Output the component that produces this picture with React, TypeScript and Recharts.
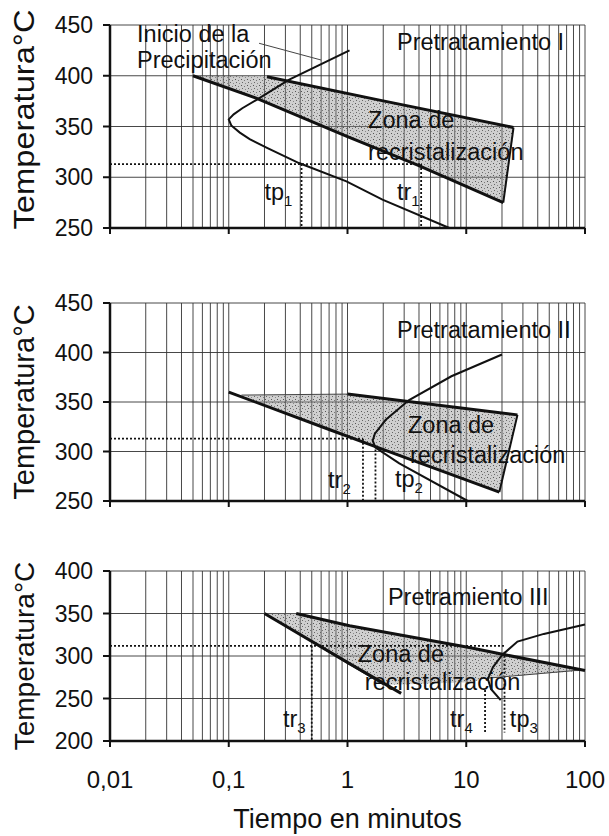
import React from 'react';
import {
  ComposedChart,
  Line,
  Area,
  Scatter,
  XAxis,
  YAxis,
  CartesianGrid,
  Label,
} from 'recharts';

const FONT = '"Liberation Sans", Arial, Helvetica, sans-serif';
const INK = '#111';

type Pt = { t: number; T: number };
type ZonePt = { t: number; r: [number, number] };
type Note = { t: number; T: number; text: string; sub?: string };

// time axis (minutes, log scale)
const decadeTicks = [0.01, 0.1, 1, 10, 100];
const decadeLabels = ['0,01', '0,1', '1', '10', '100'];
const timeGrid = [
  0.01, 0.02, 0.03, 0.04, 0.05, 0.06, 0.07, 0.08, 0.09,
  0.1, 0.2, 0.3, 0.4, 0.5, 0.6, 0.7, 0.8, 0.9,
  1, 2, 3, 4, 5, 6, 7, 8, 9,
  10, 20, 30, 40, 50, 60, 70, 80, 90,
  100,
];
const tempTicksHigh = [250, 300, 350, 400, 450];
const tempTicksLow = [200, 250, 300, 350, 400];

// ---- Pretratamiento I ----
const zoneI: ZonePt[] = [
  { t: 0.05, r: [400, 400] },
  { t: 0.17, r: [378, 399.5] },
  { t: 0.21, r: [373.5, 399] },
  { t: 1, r: [340, 383] },
  { t: 3.9, r: [312, 368.5] },
  { t: 20.5, r: [275, 351] },
  { t: 25, r: [349, 349] },
];
const recrystStartI: Pt[] = [
  { t: 0.05, T: 400 },
  { t: 0.17, T: 378 },
  { t: 1, T: 340 },
  { t: 3.9, T: 312 },
  { t: 20.5, T: 275 },
];
const recrystEndI: Pt[] = [
  { t: 0.21, T: 399 },
  { t: 1.86, T: 376 },
  { t: 25, T: 349 },
];
const zoneEdgeI: Pt[] = [
  { t: 25, T: 349 },
  { t: 20.5, T: 275 },
];
const precipI: Pt[] = [
  { t: 1.04, T: 425 },
  { t: 0.32, T: 396 },
  { t: 0.17, T: 376 },
  { t: 0.13, T: 368 },
  { t: 0.11, T: 362 },
  { t: 0.1, T: 357 },
  { t: 0.105, T: 351 },
  { t: 0.124, T: 344 },
  { t: 0.15, T: 337.5 },
  { t: 0.21, T: 329 },
  { t: 0.39, T: 314 },
  { t: 0.98, T: 296 },
  { t: 1.97, T: 278 },
  { t: 7.2, T: 250 },
];
const leaderI: Pt[] = [
  { t: 0.18, T: 432 },
  { t: 0.6, T: 415.5 },
];
const isoI: Pt[] = [
  { t: 0.01, T: 313 },
  { t: 4.17, T: 313 },
];
const tp1: Pt[] = [
  { t: 0.41, T: 313 },
  { t: 0.41, T: 250 },
];
const tr1: Pt[] = [
  { t: 4.17, T: 313 },
  { t: 4.17, T: 250 },
];
const notesI: Note[] = [
  { t: 0.0169, T: 433, text: 'Inicio de la' },
  { t: 0.0169, T: 407.5, text: 'Precipitación' },
  { t: 2.61, T: 425, text: 'Pretratamiento I' },
  { t: 1.49, T: 348.5, text: 'Zona de' },
  { t: 1.49, T: 317, text: 'recristalización' },
  { t: 0.2, T: 277.5, text: 'tp', sub: '1' },
  { t: 2.61, T: 277.5, text: 'tr', sub: '1' },
];

// ---- Pretratamiento II ----
const zoneII: ZonePt[] = [
  { t: 0.128, r: [357, 357] },
  { t: 0.71, r: [322, 357.5] },
  { t: 1, r: [315.5, 358] },
  { t: 1.63, r: [306, 355] },
  { t: 19, r: [259, 339.2] },
  { t: 27, r: [337, 337] },
];
const recrystStartII: Pt[] = [
  { t: 0.1, T: 360 },
  { t: 0.71, T: 322 },
  { t: 1.63, T: 306 },
  { t: 19, T: 259 },
];
const recrystEndII: Pt[] = [
  { t: 1, T: 358 },
  { t: 27, T: 337 },
];
const zoneEdgeII: Pt[] = [
  { t: 27, T: 337 },
  { t: 19, T: 259 },
];
const zoneTopII: Pt[] = [
  { t: 0.128, T: 357 },
  { t: 1, T: 358 },
];
const precipII: Pt[] = [
  { t: 20, T: 398 },
  { t: 7.5, T: 376 },
  { t: 3.3, T: 352 },
  { t: 2.1, T: 332 },
  { t: 1.7, T: 318 },
  { t: 1.63, T: 311 },
  { t: 1.72, T: 304 },
  { t: 2.73, T: 288 },
  { t: 10.3, T: 250 },
];
const isoII: Pt[] = [
  { t: 0.01, T: 313 },
  { t: 1.35, T: 313 },
];
const tr2: Pt[] = [
  { t: 1.35, T: 313 },
  { t: 1.35, T: 250 },
];
const tp2: Pt[] = [
  { t: 1.72, T: 306 },
  { t: 1.72, T: 250 },
];
const notesII: Note[] = [
  { t: 2.61, T: 414.5, text: 'Pretratamiento II' },
  { t: 3.23, T: 318.5, text: 'Zona de' },
  { t: 3.36, T: 288.5, text: 'recristalización' },
  { t: 0.686, T: 263, text: 'tr', sub: '2' },
  { t: 2.51, T: 264, text: 'tp', sub: '2' },
];

// ---- Pretramiento III ----
const zoneIII: ZonePt[] = [
  { t: 0.2, r: [350, 350] },
  { t: 0.37, r: [329, 350] },
  { t: 1.04, r: [290, 335.5] },
  { t: 2, r: [266, 328.5] },
  { t: 10.6, r: [269, 310] },
  { t: 15.5, r: [274, 306] },
  { t: 20.2, r: [275.5, 302] },
  { t: 100, r: [283, 283] },
];
const recrystStartIII: Pt[] = [
  { t: 0.2, T: 350 },
  { t: 1.04, T: 291 },
  { t: 2.83, T: 256 },
];
const recrystStartIIIb: Pt[] = [
  { t: 0.2, T: 350 },
  { t: 2, T: 266 },
];
const recrystEndIII: Pt[] = [
  { t: 0.37, T: 350 },
  { t: 1.04, T: 335.5 },
  { t: 10.6, T: 310 },
  { t: 20.2, T: 302 },
  { t: 100, T: 283 },
];
const zoneLowIII: Pt[] = [
  { t: 15.5, T: 274 },
  { t: 100, T: 284 },
];
const precipIII: Pt[] = [
  { t: 100, T: 337 },
  { t: 45, T: 326 },
  { t: 27, T: 317 },
  { t: 20, T: 301 },
  { t: 16.8, T: 287 },
  { t: 15.2, T: 273 },
  { t: 16.2, T: 261 },
  { t: 19.5, T: 248 },
];
const isoIII: Pt[] = [
  { t: 0.01, T: 312 },
  { t: 21, T: 312 },
];
const tr3: Pt[] = [
  { t: 0.5, T: 312 },
  { t: 0.5, T: 200 },
];
const tr4: Pt[] = [
  { t: 14.4, T: 260 },
  { t: 14.4, T: 210 },
];
const tp3: Pt[] = [
  { t: 21, T: 305 },
  { t: 21, T: 210 },
];
const notesIII: Note[] = [
  { t: 2.19, T: 360, text: 'Pretramiento III' },
  { t: 1.22, T: 293, text: 'Zona de' },
  { t: 1.4, T: 260, text: 'recristalización' },
  { t: 0.286, T: 217, text: 'tr', sub: '3' },
  { t: 7.3, T: 217, text: 'tr', sub: '4' },
  { t: 23.3, T: 217, text: 'tp', sub: '3' },
];

function TimeTick(props: any) {
  const { x, y, payload, showLabels } = props;
  const i = decadeTicks.indexOf(payload.value);
  if (i < 0) return null;
  return (
    <g>
      <line x1={x} y1={y} x2={x} y2={y + 6} stroke={INK} strokeWidth={2} />
      {showLabels && (
        <text x={x} y={y + 47} textAnchor="middle" fontFamily={FONT} fontSize={24} fill={INK}>
          {decadeLabels[i]}
        </text>
      )}
    </g>
  );
}

function TempTitle(props: any) {
  const { viewBox, value, size, length, shift = 0 } = props;
  const cx = 34;
  const cy = viewBox.y + viewBox.height / 2 + shift;
  return (
    <text
      x={cx}
      y={cy}
      transform={`rotate(-90 ${cx} ${cy})`}
      textAnchor="middle"
      fontFamily={FONT}
      fontSize={size}
      fill={INK}
      textLength={length}
      lengthAdjust={length ? 'spacingAndGlyphs' : undefined}
    >
      {value}
    </text>
  );
}

function NoteShape(props: any) {
  const { cx, cy, payload } = props;
  return (
    <text x={cx} y={cy} fontFamily={FONT} fontSize={23.5} fill={INK}>
      {payload.text}
      {payload.sub && (
        <tspan dy={6} fontSize={15}>
          {payload.sub}
        </tspan>
      )}
    </text>
  );
}

interface PanelProps {
  id: string;
  top: number;
  height: number;
  marginTop: number;
  marginBottom: number;
  xAxisHeight: number;
  yDomain: [number, number];
  yTicks: number[];
  zone: ZonePt[];
  thick: Pt[][];
  medium: Pt[][];
  thin: Pt[][];
  dotted: Pt[][];
  notes: Note[];
  timeLabels?: boolean;
  titleSize: number;
  titleLength?: number;
  titleShift?: number;
}

function Panel(p: PanelProps) {
  const lineProps = {
    dataKey: 'T',
    stroke: INK,
    dot: false,
    activeDot: false,
    isAnimationActive: false,
    type: 'linear' as const,
  };
  return (
    <div style={{ position: 'absolute', left: 0, top: p.top }}>
      <ComposedChart
        width={609}
        height={p.height}
        margin={{ top: p.marginTop, right: 24, bottom: p.marginBottom, left: 50 }}
      >
        <defs>
          <pattern id={`stipple-${p.id}`} width="6" height="6" patternUnits="userSpaceOnUse">
            <rect width="6" height="6" fill="rgba(140,140,140,0.42)" />
            <rect x="1" y="1" width="1" height="1" fill="#555" />
            <rect x="4" y="2" width="1" height="1" fill="#777" />
            <rect x="2" y="4" width="1" height="1" fill="#666" />
            <rect x="5" y="5" width="1" height="1" fill="#888" />
          </pattern>
        </defs>
        <CartesianGrid stroke="#333" strokeWidth={0.9} />
        <XAxis
          dataKey="t"
          type="number"
          scale="log"
          domain={[0.01, 100]}
          ticks={timeGrid}
          interval={0}
          height={p.xAxisHeight}
          tickLine={false}
          tickSize={0}
          tickMargin={0}
          axisLine={{ stroke: INK, strokeWidth: 2.5 }}
          tick={<TimeTick showLabels={p.timeLabels} />}
        >
          {p.timeLabels && (
            <Label
              value="Tiempo en minutos"
              position="insideBottom"
              offset={8}
              fontFamily={FONT}
              fontSize={27}
              fill={INK}
            />
          )}
        </XAxis>
        <YAxis
          dataKey="T"
          type="number"
          domain={p.yDomain}
          ticks={p.yTicks}
          interval={0}
          width={60}
          tickSize={7}
          tickMargin={10}
          tickLine={{ stroke: INK, strokeWidth: 2 }}
          axisLine={{ stroke: INK, strokeWidth: 2.5 }}
          tick={{ fill: INK, fontSize: 23, fontFamily: FONT }}
        >
          <Label
            value="Temperatura°C"
            content={<TempTitle size={p.titleSize} length={p.titleLength} shift={p.titleShift} />}
          />
        </YAxis>
        <Area
          data={p.zone}
          dataKey="r"
          type="linear"
          stroke="none"
          fill={`url(#stipple-${p.id})`}
          fillOpacity={1}
          isAnimationActive={false}
        />
        {p.dotted.map((d, i) => (
          <Line key={`dot-${i}`} data={d} {...lineProps} strokeWidth={1.8} strokeDasharray="2 2" />
        ))}
        {p.thin.map((d, i) => (
          <Line key={`thin-${i}`} data={d} {...lineProps} stroke="#444" strokeWidth={1} />
        ))}
        {p.medium.map((d, i) => (
          <Line key={`med-${i}`} data={d} {...lineProps} strokeWidth={2} />
        ))}
        {p.thick.map((d, i) => (
          <Line key={`thick-${i}`} data={d} {...lineProps} strokeWidth={3} />
        ))}
        <Scatter data={p.notes} shape={NoteShape} isAnimationActive={false} />
      </ComposedChart>
    </div>
  );
}

export default function App() {
  return (
    <div
      style={{
        position: 'absolute',
        left: 0,
        top: 0,
        width: 609,
        height: 836,
        background: '#fff',
      }}
    >
      <Panel
        id="I"
        top={0}
        height={260}
        marginTop={25}
        marginBottom={12}
        xAxisHeight={20}
        yDomain={[250, 450]}
        yTicks={tempTicksHigh}
        zone={zoneI}
        thick={[recrystStartI, recrystEndI]}
        medium={[zoneEdgeI, precipI]}
        thin={[leaderI]}
        dotted={[isoI, tp1, tr1]}
        notes={notesI}
        titleSize={30}
        titleLength={220}
        titleShift={-7}
      />
      <Panel
        id="II"
        top={260}
        height={260}
        marginTop={43}
        marginBottom={4}
        xAxisHeight={15}
        yDomain={[250, 450]}
        yTicks={tempTicksHigh}
        zone={zoneII}
        thick={[recrystStartII, recrystEndII]}
        medium={[zoneEdgeII, precipII]}
        thin={[zoneTopII]}
        dotted={[isoII, tr2, tp2]}
        notes={notesII}
        titleSize={29}
      />
      <Panel
        id="III"
        top={520}
        height={316}
        marginTop={51}
        marginBottom={0}
        xAxisHeight={95}
        yDomain={[200, 400]}
        yTicks={tempTicksLow}
        zone={zoneIII}
        thick={[recrystStartIII, recrystEndIII]}
        medium={[precipIII]}
        thin={[recrystStartIIIb, zoneLowIII]}
        dotted={[isoIII, tr3, tr4, tp3]}
        notes={notesIII}
        timeLabels
        titleSize={28}
      />
    </div>
  );
}
